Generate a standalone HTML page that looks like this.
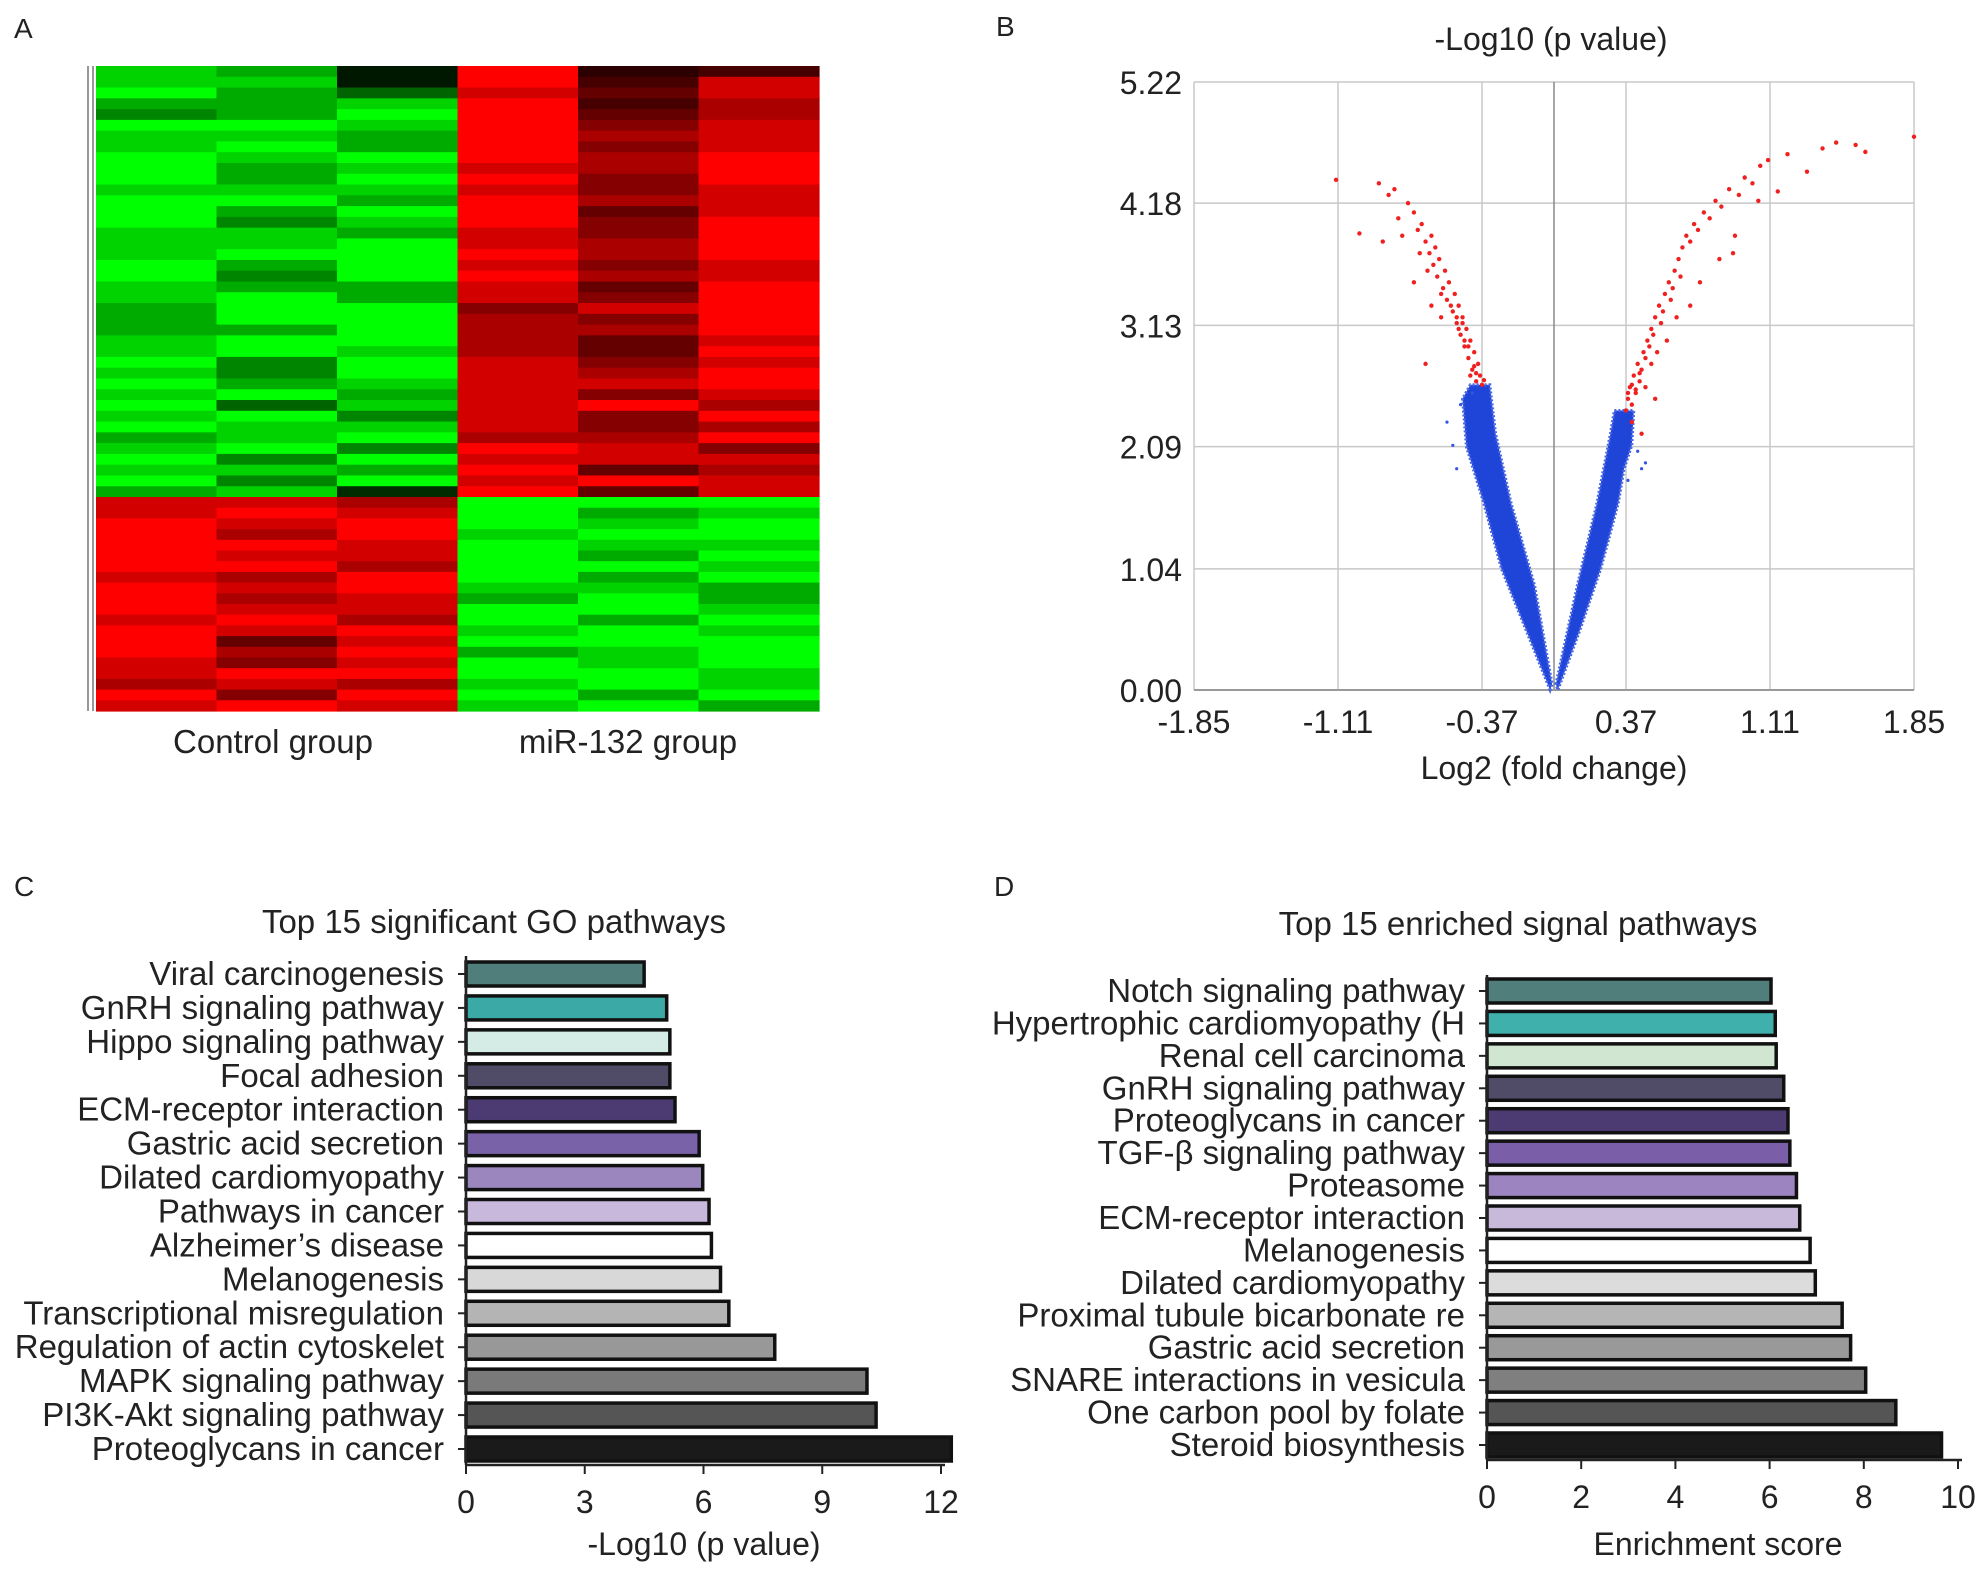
<!DOCTYPE html>
<html><head><meta charset="utf-8"><style>
html,body{margin:0;padding:0;background:#fff}
svg{display:block}
text{font-family:"Liberation Sans",Arial,sans-serif;fill:#222}
</style></head><body>
<svg id="root" xmlns="http://www.w3.org/2000/svg" width="1987" height="1576" viewBox="0 0 1987 1576">
<rect x="0" y="0" width="1987" height="1576" fill="#fff"/>
<text x="14" y="38" font-size="28">A</text>
<text x="996" y="36" font-size="28">B</text>
<text x="14" y="896" font-size="28">C</text>
<text x="994" y="896" font-size="28">D</text>
<g id="pa"></g>
<g id="pb"></g>
<g id="pc"></g>
<g id="pd"></g>
</svg>
<script>
// ---------- Panel A data ----------
const heatTop = ["872934","882948","975858","778947","679957","998968","887978","897968","989979","978879",
"979969","888868","997978","979958","968969","887869","889879","899979","979868","969978",
"877859","897869","799689","799769","779779","899758","898759","969868","869879","978889",
"897868","958897","896869","988867","789779","896986","969888","887957","969898","783958"];
const heatBottom = ["887999","898978","989989","979899","998988","988979","997998","879979","989887","978797",
"988998","897979","989898","958999","979789","868989","899998","787898","969979","898897"];
const groupLabels = ["Control group","miR-132 group"];

// ---------- Panel B data ----------
const yTicksB = [0,1.04,2.09,3.13,4.18,5.22];
const xTicksB = [-1.85,-1.11,-0.37,0.37,1.11,1.85];
const blueLeftX = [-0.02,-0.14,-0.27,-0.36,-0.45,-0.47,-0.43,-0.33,-0.30,-0.22,-0.10,-0.01];
const blueLeftY = [0,0.5,1.04,1.6,2.09,2.5,2.62,2.62,2.2,1.6,0.9,0.05];
const blueRightX = [0.01,0.12,0.22,0.29,0.31,0.41,0.40,0.36,0.33,0.24,0.13,0.02];
const blueRightY = [0.05,0.9,1.6,2.2,2.4,2.4,2.1,1.9,1.6,1.04,0.5,0];
const blueOutX = [-0.55,-0.52,-0.50,-0.48,0.45,0.47,0.43,0.38,-0.42];
const blueOutY = [2.3,2.1,1.9,2.45,1.9,1.95,2.05,1.8,2.55];
const redX = [-0.37,-0.38,-0.40,-0.39,-0.42,-0.41,-0.44,-0.43,-0.46,-0.45,-0.48,-0.47,-0.50,-0.49,-0.52,-0.51,-0.55,-0.54,-0.57,-0.56,-0.60,-0.59,-0.62,-0.61,-0.64,-0.63,-0.66,-0.68,-0.70,-0.72,-0.75,-0.82,-0.90,-1.12,-1.00,-0.88,-0.72,-0.63,-0.58,-0.66,-0.40,-0.36,-0.43,-0.46,-0.49,-0.53,-0.58,-0.65,-0.69,-0.78,-0.80,-0.85,-0.41,-0.44,-0.47,-0.50,
0.37,0.38,0.39,0.40,0.41,0.42,0.43,0.44,0.46,0.45,0.48,0.47,0.50,0.49,0.52,0.51,0.54,0.55,0.57,0.56,0.59,0.60,0.62,0.61,0.64,0.66,0.65,0.68,0.70,0.72,0.74,0.77,0.80,0.83,0.86,0.90,0.95,0.98,1.02,1.06,1.10,1.05,0.92,1.20,1.30,1.38,1.45,1.55,1.60,1.85,1.15,0.38,0.40,0.42,0.44,0.47,0.50,0.53,0.58,0.63,0.70,0.75,0.85,0.93,0.40,0.45,0.52];
const redY = [2.62,2.7,2.65,2.8,2.75,2.9,2.85,3.0,2.95,3.1,3.05,3.2,3.15,3.3,3.25,3.4,3.35,3.5,3.45,3.6,3.55,3.7,3.65,3.8,3.75,3.9,3.85,4.0,3.95,4.1,4.18,4.3,4.35,4.38,3.92,3.85,3.5,3.3,3.2,2.8,2.72,2.66,2.7,3.0,3.1,3.3,3.4,3.6,3.75,3.9,4.05,4.25,2.78,2.95,3.15,3.2,
2.4,2.5,2.6,2.45,2.7,2.55,2.8,2.65,2.9,2.75,3.0,2.85,3.1,2.95,3.2,3.05,3.3,3.15,3.4,3.25,3.5,3.35,3.6,3.45,3.7,3.8,3.55,3.9,3.85,4.0,3.95,4.1,4.05,4.2,4.15,4.3,4.25,4.4,4.35,4.5,4.55,4.2,3.75,4.6,4.45,4.65,4.7,4.68,4.62,4.75,4.28,2.55,2.62,2.58,2.72,2.6,2.8,2.9,3.0,3.2,3.3,3.5,3.7,3.9,2.3,2.2,2.5];

// ---------- Panel C data ----------
const goLabels = ["Viral carcinogenesis","GnRH signaling pathway","Hippo signaling pathway","Focal adhesion","ECM-receptor interaction","Gastric acid secretion","Dilated cardiomyopathy","Pathways in cancer","Alzheimer’s disease","Melanogenesis","Transcriptional misregulation","Regulation of actin cytoskelet","MAPK signaling pathway","PI3K-Akt signaling pathway","Proteoglycans in cancer"];
const goValues = [4.5,5.07,5.15,5.15,5.28,5.89,5.98,6.14,6.2,6.43,6.64,7.8,10.13,10.36,12.26];
const goTicks = [0,3,6,9,12];
// ---------- Panel D data ----------
const keggLabels = ["Notch signaling pathway","Hypertrophic cardiomyopathy (H","Renal cell carcinoma","GnRH signaling pathway","Proteoglycans in cancer","TGF-β signaling pathway","Proteasome","ECM-receptor interaction","Melanogenesis","Dilated cardiomyopathy","Proximal tubule bicarbonate re","Gastric acid secretion","SNARE interactions in vesicula","One carbon pool by folate","Steroid biosynthesis"];
const keggValues = [6.03,6.12,6.14,6.3,6.39,6.43,6.57,6.64,6.86,6.97,7.54,7.72,8.04,8.68,9.65];
const keggTicks = [0,2,4,6,8,10];

const NS="http://www.w3.org/2000/svg";
function mk(p,tag,at){const e=document.createElementNS(NS,tag);for(const k in at)e.setAttribute(k,at[k]);p.appendChild(e);return e;}

// ---------- Panel A ----------
(function(){
  const g=document.getElementById('pa');
  const L=96,R=819,T=66,S=497,B=711,cw=(R-L)/6;
  const drawBlock=(rows,y0,y1,topBlock)=>{
    const rh=(y1-y0)/rows.length;
    rows.forEach((row,i)=>{
      for(let c=0;c<6;c++){
        const v=parseInt(row[c])/9;
        const green = topBlock ? c<3 : c>=3;
        const lv=Math.round(255*Math.pow(v,1.6));
        const col = green ? `rgb(0,${lv},0)` : `rgb(${lv},0,0)`;
        const r=mk(g,'rect',{x:(L+c*cw).toFixed(2),y:(y0+i*rh).toFixed(2),width:(cw+0.6).toFixed(2),height:(rh+0.6).toFixed(2),fill:col});
        
        
      }
    });
  };
  drawBlock(heatTop,T,S,true);
  drawBlock(heatBottom,S,B,false);
  const d=mk(g,'path',{d:`M93 ${T} V${B} M88 ${T} V${B}`,stroke:'#777','stroke-width':1.5,fill:'none'});
  
  
  groupLabels.forEach((t,i)=>{
    const x=i===0?273:628;
    const e=mk(g,'text',{x:x,y:753,'font-size':33,'text-anchor':'middle'});
    e.textContent=t;
    
    
  });
})();

// ---------- Panel B ----------
(function(){
  const g=document.getElementById('pb');
  const L=1194,R=1914,T=82,B=690;
  const xs=v=>L+(v+1.85)/3.7*(R-L);
  const ys=v=>B-v/5.22*(B-T);
  yTicksB.forEach(v=>{
    const l=mk(g,'line',{x1:L,x2:R,y1:ys(v),y2:ys(v),stroke:'#c8c8c8','stroke-width':1.5});
    
    
    const t=mk(g,'text',{x:L-12,y:ys(v)+12,'font-size':32,'text-anchor':'end'});
    t.textContent=v.toFixed(2);
    
    
  });
  xTicksB.forEach(v=>{
    const l=mk(g,'line',{x1:xs(v),x2:xs(v),y1:T,y2:B,stroke:'#c8c8c8','stroke-width':1.5});
    
    
    const t=mk(g,'text',{x:xs(v),y:733,'font-size':32,'text-anchor':'middle'});
    t.textContent=v.toFixed(2);
    
    
  });
  const z=mk(g,'line',{x1:xs(0),x2:xs(0),y1:T,y2:B,stroke:'#888','stroke-width':1.5});
  
  
  const ax=mk(g,'line',{x1:L,x2:R,y1:B,y2:B,stroke:'#999','stroke-width':2});
  
  
  const poly=(X,Y,name)=>{
    const p=mk(g,'polygon',{points:X.map((x,i)=>xs(x).toFixed(1)+','+ys(Y[i]).toFixed(1)).join(' '),fill:'#1f44d8',stroke:'#4a68e6','stroke-width':3,'stroke-dasharray':'2 2'});
    
    
  };
  poly(blueLeftX,blueLeftY,'blue-points-left');
  poly(blueRightX,blueRightY,'blue-points-right');
  blueOutX.forEach((x,i)=>{
    const c=mk(g,'circle',{cx:xs(x),cy:ys(blueOutY[i]),r:1.6,fill:'#3456e0'});
    
    
  });
  redX.forEach((x,i)=>{
    const c=mk(g,'circle',{cx:xs(x),cy:ys(redY[i]),r:2.2,fill:'#f02020'});
    
    
  });
  const t1=mk(g,'text',{x:1551,y:50,'font-size':32,'text-anchor':'middle'});t1.textContent='-Log10 (p value)';
  
  
  const t2=mk(g,'text',{x:1554,y:779,'font-size':32,'text-anchor':'middle'});t2.textContent='Log2 (fold change)';
  
  
})();

// ---------- Bar panels ----------
const colorsC=["#4f7e7b","#3ba9a6","#d5ebe5","#504b67","#4b3b72","#7a62a8","#9b87bd","#c7b8dc","#ffffff","#d8d8d8","#b4b4b4","#989898","#7a7a7a","#555555","#1a1a1a"];
const colorsD=["#4f7e7b","#3fb0ab","#d0e6d0","#504b67","#4b3b72","#7a5ea8","#9b84bf","#c8b8da","#ffffff","#dcdcdc","#b5b5b5","#999999","#7f7f7f","#555555","#1a1a1a"];
function barPanel(id,labels,values,ticks,colors,cfg){
  const g=document.getElementById(id);
  const xs=v=>cfg.x0+v/cfg.max*(cfg.x1-cfg.x0);
  const step=(cfg.yLast-cfg.yFirst)/(labels.length-1);
  labels.forEach((lab,i)=>{
    const cy=cfg.yFirst+i*step;
    const b=mk(g,'rect',{x:xs(0),y:cy-12,width:xs(values[i])-xs(0),height:24,fill:colors[i],stroke:'#111','stroke-width':3.5});
    
    
    const tk=mk(g,'line',{x1:cfg.x0-8,x2:cfg.x0,y1:cy,y2:cy,stroke:'#222','stroke-width':2});
    
    
    const t=mk(g,'text',{x:cfg.x0-22,y:cy+11,'font-size':33,'text-anchor':'end'});
    t.textContent=lab;
    
    
  });
  const ya=mk(g,'line',{x1:cfg.x0,x2:cfg.x0,y1:cfg.yTop,y2:cfg.yAxis,stroke:'#222','stroke-width':2.5});
  
  
  const xa=mk(g,'line',{x1:cfg.x0,x2:cfg.x1+4,y1:cfg.yAxis,y2:cfg.yAxis,stroke:'#222','stroke-width':2.5});
  
  
  ticks.forEach(v=>{
    const l=mk(g,'line',{x1:xs(v),x2:xs(v),y1:cfg.yAxis,y2:cfg.yAxis+9,stroke:'#222','stroke-width':2});
    
    
    const t=mk(g,'text',{x:xs(v),y:cfg.yAxis+48,'font-size':32,'text-anchor':'middle'});
    t.textContent=v;
    
    
  });
  const tt=mk(g,'text',{x:cfg.titleX,y:cfg.titleY,'font-size':33,'text-anchor':'middle'});tt.textContent=cfg.title;
  
  
  const xl=mk(g,'text',{x:cfg.xlabX,y:1555,'font-size':32,'text-anchor':'middle'});xl.textContent=cfg.xlab;
  
  
}
barPanel('pc',goLabels,goValues,goTicks,colorsC,{x0:466,x1:941,max:12,yFirst:974,yLast:1449,yTop:956,yAxis:1465,title:'Top 15 significant GO pathways',titleX:494,titleY:933,xlab:'-Log10 (p value)',xlabX:704});
barPanel('pd',keggLabels,keggValues,keggTicks,colorsD,{x0:1487,x1:1958,max:10,yFirst:991,yLast:1445,yTop:975,yAxis:1460,title:'Top 15 enriched signal pathways',titleX:1518,titleY:935,xlab:'Enrichment score',xlabX:1718});
</script>
</body></html>
